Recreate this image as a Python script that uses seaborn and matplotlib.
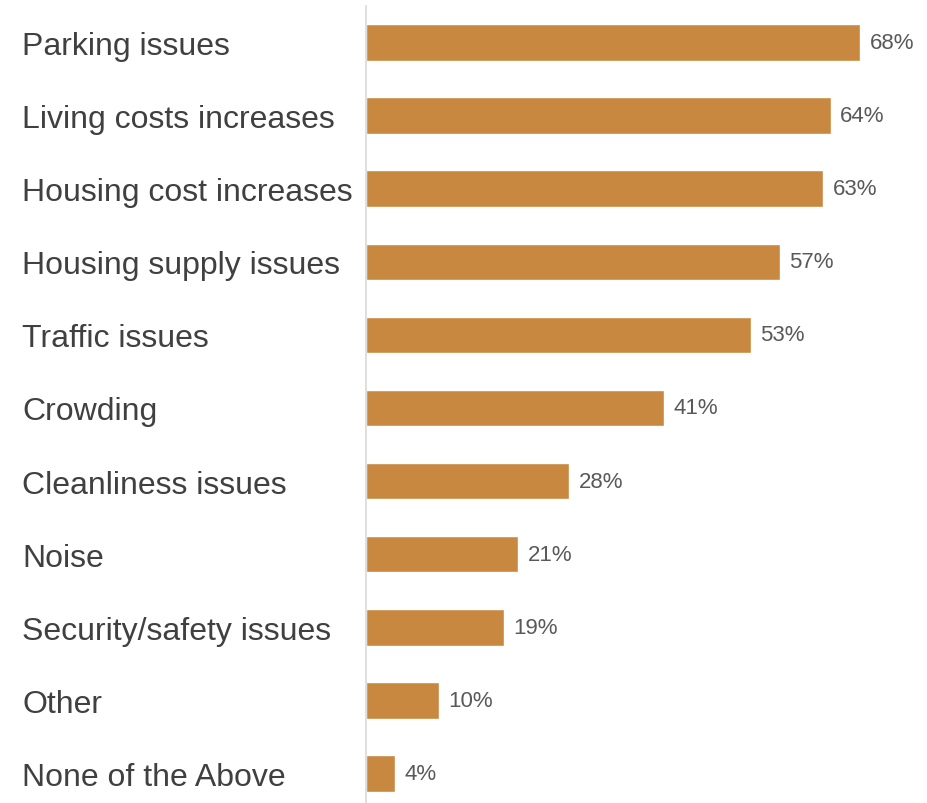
import pandas as pd
import seaborn as sns
import matplotlib.pyplot as plt

categories = ["Parking issues", "Living costs increases", "Housing cost increases",
              "Housing supply issues", "Traffic issues", "Crowding",
              "Cleanliness issues", "Noise", "Security/safety issues", "Other",
              "None of the Above"]
values = [68, 64, 63, 57, 53, 41, 28, 21, 19, 10, 4]

df = pd.DataFrame({"issue": categories, "pct": values})

sns.set_theme(style="white")
plt.rcParams['font.family'] = ['Liberation Sans', 'DejaVu Sans']

bar_color = "#C8883F"

fig = plt.figure(figsize=(9.27, 8.04), dpi=100)
# axes runs a little past the bottom edge, as in the cropped original
ax = fig.add_axes([366 / 927, -7 / 804, 544.5 / 927, 804 / 804])

sns.barplot(data=df, x="pct", y="issue", color=bar_color, saturation=1,
            width=0.5, ax=ax, orient="h")

ax.set_xlim(0, 75)
ax.set_ylim(10.5, -0.5)
ax.set_xlabel("")
ax.set_ylabel("")
ax.set_xticks([])

for lab in ax.get_yticklabels():
    lab.set_horizontalalignment("left")
ax.tick_params(axis="y", length=0, pad=(366 - 22) * 0.72, labelsize=23,
               labelcolor="#404040")

for s in ["top", "right", "bottom"]:
    ax.spines[s].set_visible(False)
ax.spines["left"].set_color("#d9d9d9")
ax.spines["left"].set_linewidth(1.2)

for i, v in enumerate(values):
    ax.annotate(f"{v}%", (v, i), xytext=(7, 0), textcoords="offset points",
                va="center", ha="left", fontsize=16, color="#595959")

fig.savefig("out.png", dpi=100, facecolor="white")
